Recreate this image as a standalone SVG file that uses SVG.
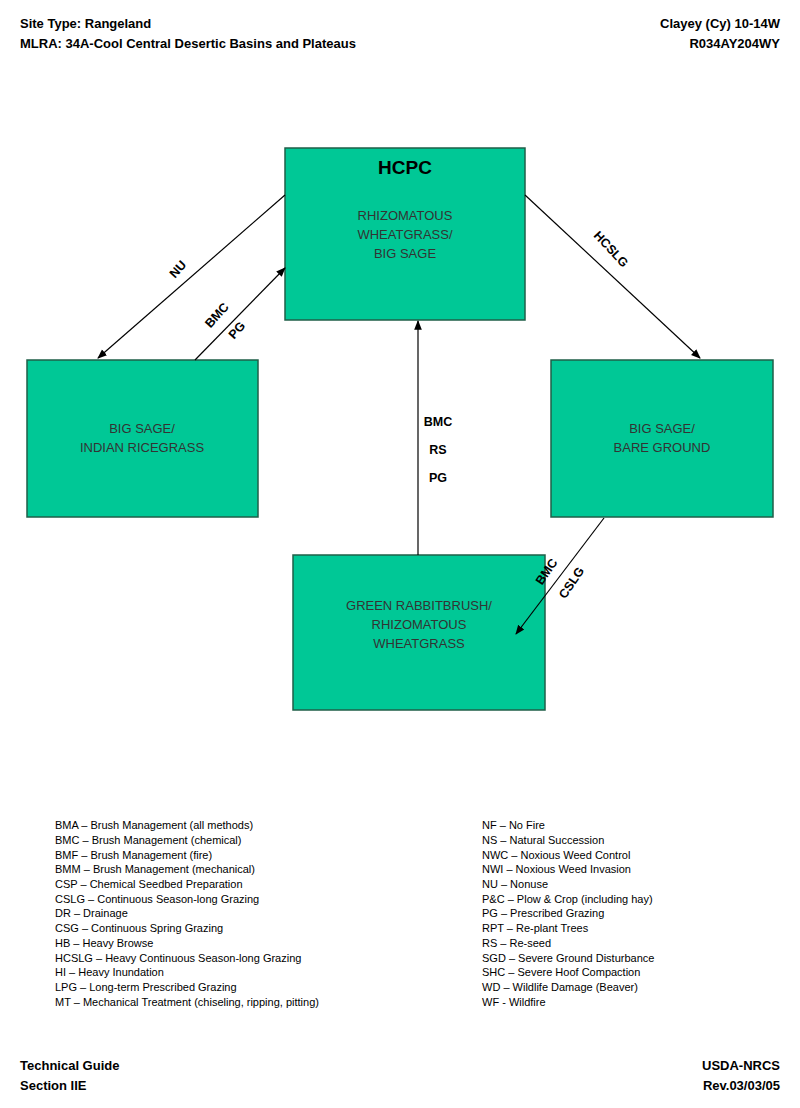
<svg xmlns="http://www.w3.org/2000/svg" width="800" height="1108" viewBox="0 0 800 1108">
<style>
.b{fill:#00c896;stroke:#1f5f48;stroke-width:1.5}
.t{font-family:"Liberation Sans",Arial,sans-serif;font-size:13px;fill:#333;text-anchor:middle}
.h{font-family:"Liberation Sans",Arial,sans-serif;font-size:13px;font-weight:bold;fill:#000}
.l{font-family:"Liberation Sans",Arial,sans-serif;font-size:12.5px;font-weight:bold;fill:#000;text-anchor:middle}
.g{font-family:"Liberation Sans",Arial,sans-serif;font-size:11px;fill:#000}
.c{stroke:#000;stroke-width:1.2;fill:none;marker-end:url(#a)}
</style>
<defs><marker id="a" viewBox="0 0 10 10" refX="9" refY="5" markerWidth="8" markerHeight="8" orient="auto"><path d="M0,1 L10,5 L0,9 z" fill="#000"/></marker></defs>
<text class="h" x="20" y="28">Site Type:  Rangeland</text>
<text class="h" x="20" y="48">MLRA: 34A-Cool Central Desertic Basins and Plateaus</text>
<text class="h" x="780" y="28" text-anchor="end">Clayey (Cy) 10-14W</text>
<text class="h" x="780" y="48" text-anchor="end">R034AY204WY</text>
<g id="hcpc"><rect class="b" x="285" y="148" width="240" height="172"/>
<text class="t" x="405" y="174" style="font-size:19px;font-weight:bold;fill:#000">HCPC</text>
<text class="t" x="405" y="220">RHIZOMATOUS</text><text class="t" x="405" y="239">WHEATGRASS/</text><text class="t" x="405" y="258">BIG SAGE</text></g>
<g id="left"><rect class="b" x="27" y="360" width="231" height="157"/>
<text class="t" x="142" y="433">BIG SAGE/</text><text class="t" x="142" y="452">INDIAN RICEGRASS</text></g>
<g id="right"><rect class="b" x="551" y="360" width="222" height="157"/>
<text class="t" x="662" y="433">BIG SAGE/</text><text class="t" x="662" y="452">BARE GROUND</text></g>
<g id="bottom"><rect class="b" x="293" y="555" width="252" height="155"/>
<text class="t" x="419" y="610">GREEN RABBITBRUSH/</text><text class="t" x="419" y="629">RHIZOMATOUS</text><text class="t" x="419" y="648">WHEATGRASS</text></g>
<g id="connectors">
<line class="c" x1="285" y1="195" x2="98" y2="358"/>
<line class="c" x1="195" y1="360" x2="285" y2="268"/>
<line class="c" x1="525" y1="195" x2="700" y2="358"/>
<line class="c" x1="418" y1="555" x2="418" y2="321"/>
<line class="c" x1="604" y1="518" x2="516" y2="634"/>
<text class="l" transform="translate(181,272) rotate(-48)">NU</text>
<text class="l" transform="translate(220,318) rotate(-48)">BMC</text>
<text class="l" transform="translate(240,333) rotate(-48)">PG</text>
<text class="l" transform="translate(608,252) rotate(47)">HCSLG</text>
<text class="l" x="438" y="426">BMC</text><text class="l" x="438" y="454">RS</text><text class="l" x="438" y="482">PG</text>
<text class="l" transform="translate(550,574) rotate(-56)">BMC</text>
<text class="l" transform="translate(575,585) rotate(-56)">CSLG</text>
</g>
<g class="g">
<text x="55" y="829">BMA – Brush Management (all methods)</text>
<text x="55" y="844">BMC – Brush Management (chemical)</text>
<text x="55" y="859">BMF – Brush Management (fire)</text>
<text x="55" y="873">BMM – Brush Management (mechanical)</text>
<text x="55" y="888">CSP – Chemical Seedbed Preparation</text>
<text x="55" y="903">CSLG – Continuous Season-long Grazing</text>
<text x="55" y="917">DR – Drainage</text>
<text x="55" y="932">CSG – Continuous Spring Grazing</text>
<text x="55" y="947">HB – Heavy Browse</text>
<text x="55" y="962">HCSLG – Heavy Continuous Season-long Grazing</text>
<text x="55" y="976">HI – Heavy Inundation</text>
<text x="55" y="991">LPG – Long-term Prescribed Grazing</text>
<text x="55" y="1006">MT – Mechanical Treatment (chiseling, ripping, pitting)</text>
<text x="482" y="829">NF – No Fire</text>
<text x="482" y="844">NS – Natural Succession</text>
<text x="482" y="859">NWC – Noxious Weed Control</text>
<text x="482" y="873">NWI – Noxious Weed Invasion</text>
<text x="482" y="888">NU – Nonuse</text>
<text x="482" y="903">P&amp;C – Plow &amp; Crop (including hay)</text>
<text x="482" y="917">PG – Prescribed Grazing</text>
<text x="482" y="932">RPT – Re-plant Trees</text>
<text x="482" y="947">RS – Re-seed</text>
<text x="482" y="962">SGD – Severe Ground Disturbance</text>
<text x="482" y="976">SHC – Severe Hoof Compaction</text>
<text x="482" y="991">WD – Wildlife Damage (Beaver)</text>
<text x="482" y="1006">WF - Wildfire</text>
</g>
<text class="h" x="20" y="1070">Technical Guide</text>
<text class="h" x="20" y="1090">Section IIE</text>
<text class="h" x="780" y="1070" text-anchor="end">USDA-NRCS</text>
<text class="h" x="780" y="1090" text-anchor="end">Rev.03/03/05</text>
</svg>
